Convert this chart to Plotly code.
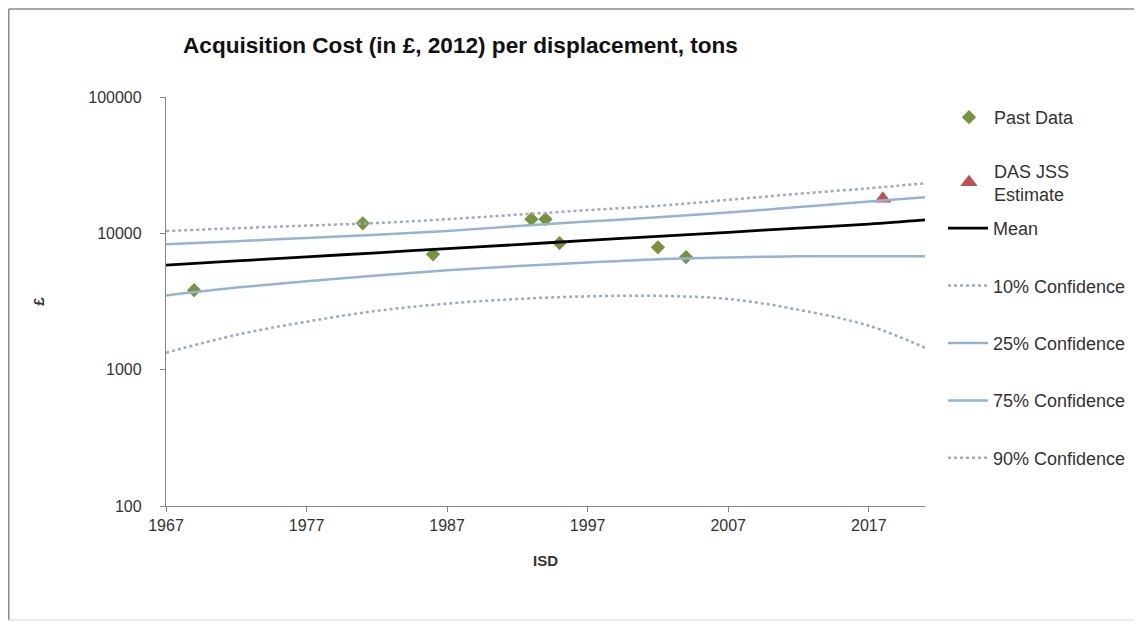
import plotly.graph_objects as go

# ---- data ----
past_years = [1969, 1981, 1986, 1993, 1994, 1995, 2002, 2004]
past_cost = [3830, 11850, 7010, 12700, 12700, 8490, 7890, 6700]

das_years = [2018]
das_cost = [17900]

curve_years = [1967, 1972, 1977, 1982, 1987, 1992, 1997, 2002, 2007, 2012, 2017, 2021]
mean_cost = [5850, 6270, 6720, 7200, 7720, 8270, 8870, 9500, 10180, 10910, 11700, 12550]
conf10 = [10400, 10900, 11400, 11900, 12700, 13700, 14800, 15900, 17600, 19500, 21400, 23300]
conf25 = [8300, 8750, 9250, 9750, 10400, 11300, 12200, 13100, 14200, 15600, 17100, 18400]
conf75 = [3500, 4000, 4450, 4900, 5350, 5750, 6100, 6450, 6650, 6780, 6800, 6780]
conf90 = [1330, 1800, 2250, 2700, 3050, 3300, 3450, 3480, 3300, 2750, 2100, 1450]

x_ticks = [1967, 1977, 1987, 1997, 2007, 2017]
y_ticks = [100, 1000, 10000, 100000]

FONT = "Liberation Sans, Arial, sans-serif"
BLUE = "#95B3D7"
DOT = "#A0A8C8"

fig = go.Figure()
gap_group = 0


def add(trace, legend="legend"):
    global gap_group
    gap_group += 1
    trace.legendgroup = f"g{gap_group}"
    trace.legend = legend
    fig.add_trace(trace)


add(go.Scatter(x=past_years, y=past_cost, mode="markers", name="Past Data",
               marker=dict(symbol="diamond", size=11, color="#77933C")))
add(go.Scatter(x=das_years, y=das_cost, mode="markers", name="DAS JSS<br>Estimate",
               marker=dict(symbol="triangle-up", size=15, color="#C0504D")))
add(go.Scatter(x=curve_years, y=mean_cost, mode="lines", name="Mean",
               line=dict(color="black", width=2.8, shape="spline")), "legend2")
add(go.Scatter(x=curve_years, y=conf10, mode="lines", name="10% Confidence",
               line=dict(color=DOT, width=2.5, dash="dot", shape="spline")), "legend2")
add(go.Scatter(x=curve_years, y=conf25, mode="lines", name="25% Confidence",
               line=dict(color=BLUE, width=2.5, shape="spline")), "legend2")
add(go.Scatter(x=curve_years, y=conf75, mode="lines", name="75% Confidence",
               line=dict(color=BLUE, width=2.5, shape="spline")), "legend2")
add(go.Scatter(x=curve_years, y=conf90, mode="lines", name="90% Confidence",
               line=dict(color=DOT, width=2.5, dash="dot", shape="spline")), "legend2")

L, T, PW, PH = 158, 89, 759, 409
W, H = 1142, 626


def py(page_y):
    """page pixel y -> paper coordinate"""
    fig_y = page_y - 8
    return (T + PH - fig_y) / PH


def px(page_x):
    fig_x = page_x - 8
    return (fig_x - L) / PW


frame = dict(color="#8a8a8a", width=1.5)
x_left = -L / PW + 0.001
y_top = (T + PH - 1) / PH

fig.update_layout(
    width=W, height=H,
    margin=dict(l=L, r=W - L - PW, t=T, b=H - T - PH),
    paper_bgcolor="white", plot_bgcolor="white",
    font=dict(family=FONT, size=16, color="#222"),
    title=dict(text="<b>Acquisition Cost (in £, 2012) per displacement, tons</b>",
               x=175 / W, xanchor="left", y=1 - 37 / H, yanchor="middle",
               font=dict(size=22.6, color="#111", family=FONT)),
    showlegend=True,
    legend=dict(x=px(944), xanchor="left", y=py(99), yanchor="top",
                font=dict(size=18, color="#333"), tracegroupgap=27,
                bgcolor="rgba(0,0,0,0)", itemwidth=40),
    legend2=dict(x=px(943), xanchor="left", y=py(210), yanchor="top",
                 font=dict(size=18, color="#333"), tracegroupgap=31,
                 bgcolor="rgba(0,0,0,0)", itemwidth=40),
    shapes=[
        dict(type="line", xref="paper", yref="paper", x0=x_left, x1=1.6, y0=y_top, y1=y_top,
             line=frame, layer="below"),
        dict(type="line", xref="paper", yref="paper", x0=x_left, x1=x_left, y0=py(620), y1=y_top,
             line=frame, layer="below"),
        dict(type="line", xref="paper", yref="paper", x0=x_left, x1=1.6, y0=py(620), y1=py(620),
             line=dict(color="#d8d8d8", width=1), layer="below"),
    ],
)

fig.update_xaxes(range=[1967, 2021], tickvals=x_ticks, showgrid=False, zeroline=False,
                 showline=True, linecolor="#868686", linewidth=1.3,
                 ticks="outside", ticklen=5, tickcolor="#868686",
                 tickfont=dict(size=16, color="#333"),
                 title=dict(text="<b>ISD</b>", font=dict(size=15, color="#333"), standoff=22))
fig.update_yaxes(type="log", range=[2, 5], tickvals=y_ticks, ticktext=[str(v) for v in y_ticks],
                 showgrid=False, zeroline=False,
                 showline=True, linecolor="#868686", linewidth=1.3,
                 ticks="outside", ticklen=5, tickcolor="#868686", ticklabelstandoff=15,
                 tickfont=dict(size=16, color="#333"),
                 title=dict(text="<b>£</b>", font=dict(size=15, color="#333"), standoff=40))

fig.write_html("out.html")
